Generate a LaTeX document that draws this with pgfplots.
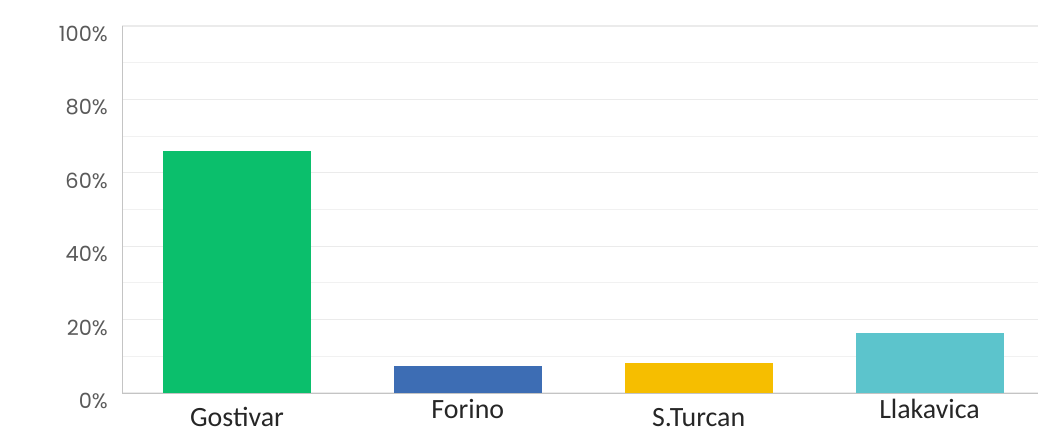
\documentclass[border=0pt]{standalone}
\usepackage{pgfplots}
\pgfplotsset{compat=1.18}
\usepackage{fontspec}
\setmainfont{Carlito}
\newfontfamily\tickfont{Poppins}

\definecolor{barGreen}{HTML}{0BBF6C}
\definecolor{barBlue}{HTML}{3D6DB4}
\definecolor{barYellow}{HTML}{F6BE00}
\definecolor{barTeal}{HTML}{5CC4CC}
\definecolor{axisGrey}{HTML}{C4C4C4}
\definecolor{gridGrey}{HTML}{EBEBEB}
\definecolor{labelGrey}{HTML}{5A5A5A}

\begin{document}
\begin{tikzpicture}
\useasboundingbox (0,0) rectangle (1038bp,432bp);
\begin{axis}[
  at={(122bp,39bp)}, anchor=south west,
  scale only axis,
  width=916bp, height=367bp,
  xmin=-0.498, xmax=3.47,
  ymin=0, ymax=100,
  xtick={0,1,2,3},
  xticklabels={{\raisebox{-8bp}{Gostivar}},{Forino},{\raisebox{-8bp}{S.Turcan}},{Llakavica}},
  xticklabel style={anchor=base, yshift=-25bp, inner sep=0pt,
    font=\fontsize{28}{28}\selectfont, text=black!85},
  ytick={0,20,40,60,80,100},
  yticklabels={0\%,20\%,40\%,60\%,80\%,100\%},
  yticklabel style={anchor=east, inner sep=0pt, xshift=-14bp, yshift=-8bp,
    font=\tickfont\fontsize{21}{21}\selectfont, text=labelGrey},
  minor ytick={10,30,50,70,90},
  ymajorgrids, yminorgrids,
  major grid style={gridGrey, line width=1.2pt},
  minor grid style={gridGrey!70, line width=1pt},
  major tick length=0pt, minor tick length=0pt,
  axis x line*=bottom, axis y line*=left,
  axis line style={-, axisGrey, line width=0.8pt},
  ybar, bar width=148bp, bar shift=0pt,
  clip=false,
]
\addplot[fill=barGreen, draw=none] coordinates {(0,65.9)};
\addplot[fill=barBlue, draw=none] coordinates {(1,7.4)};
\addplot[fill=barYellow, draw=none] coordinates {(2,8.3)};
\addplot[fill=barTeal, draw=none] coordinates {(3,16.4)};
\end{axis}
\end{tikzpicture}
\end{document}
